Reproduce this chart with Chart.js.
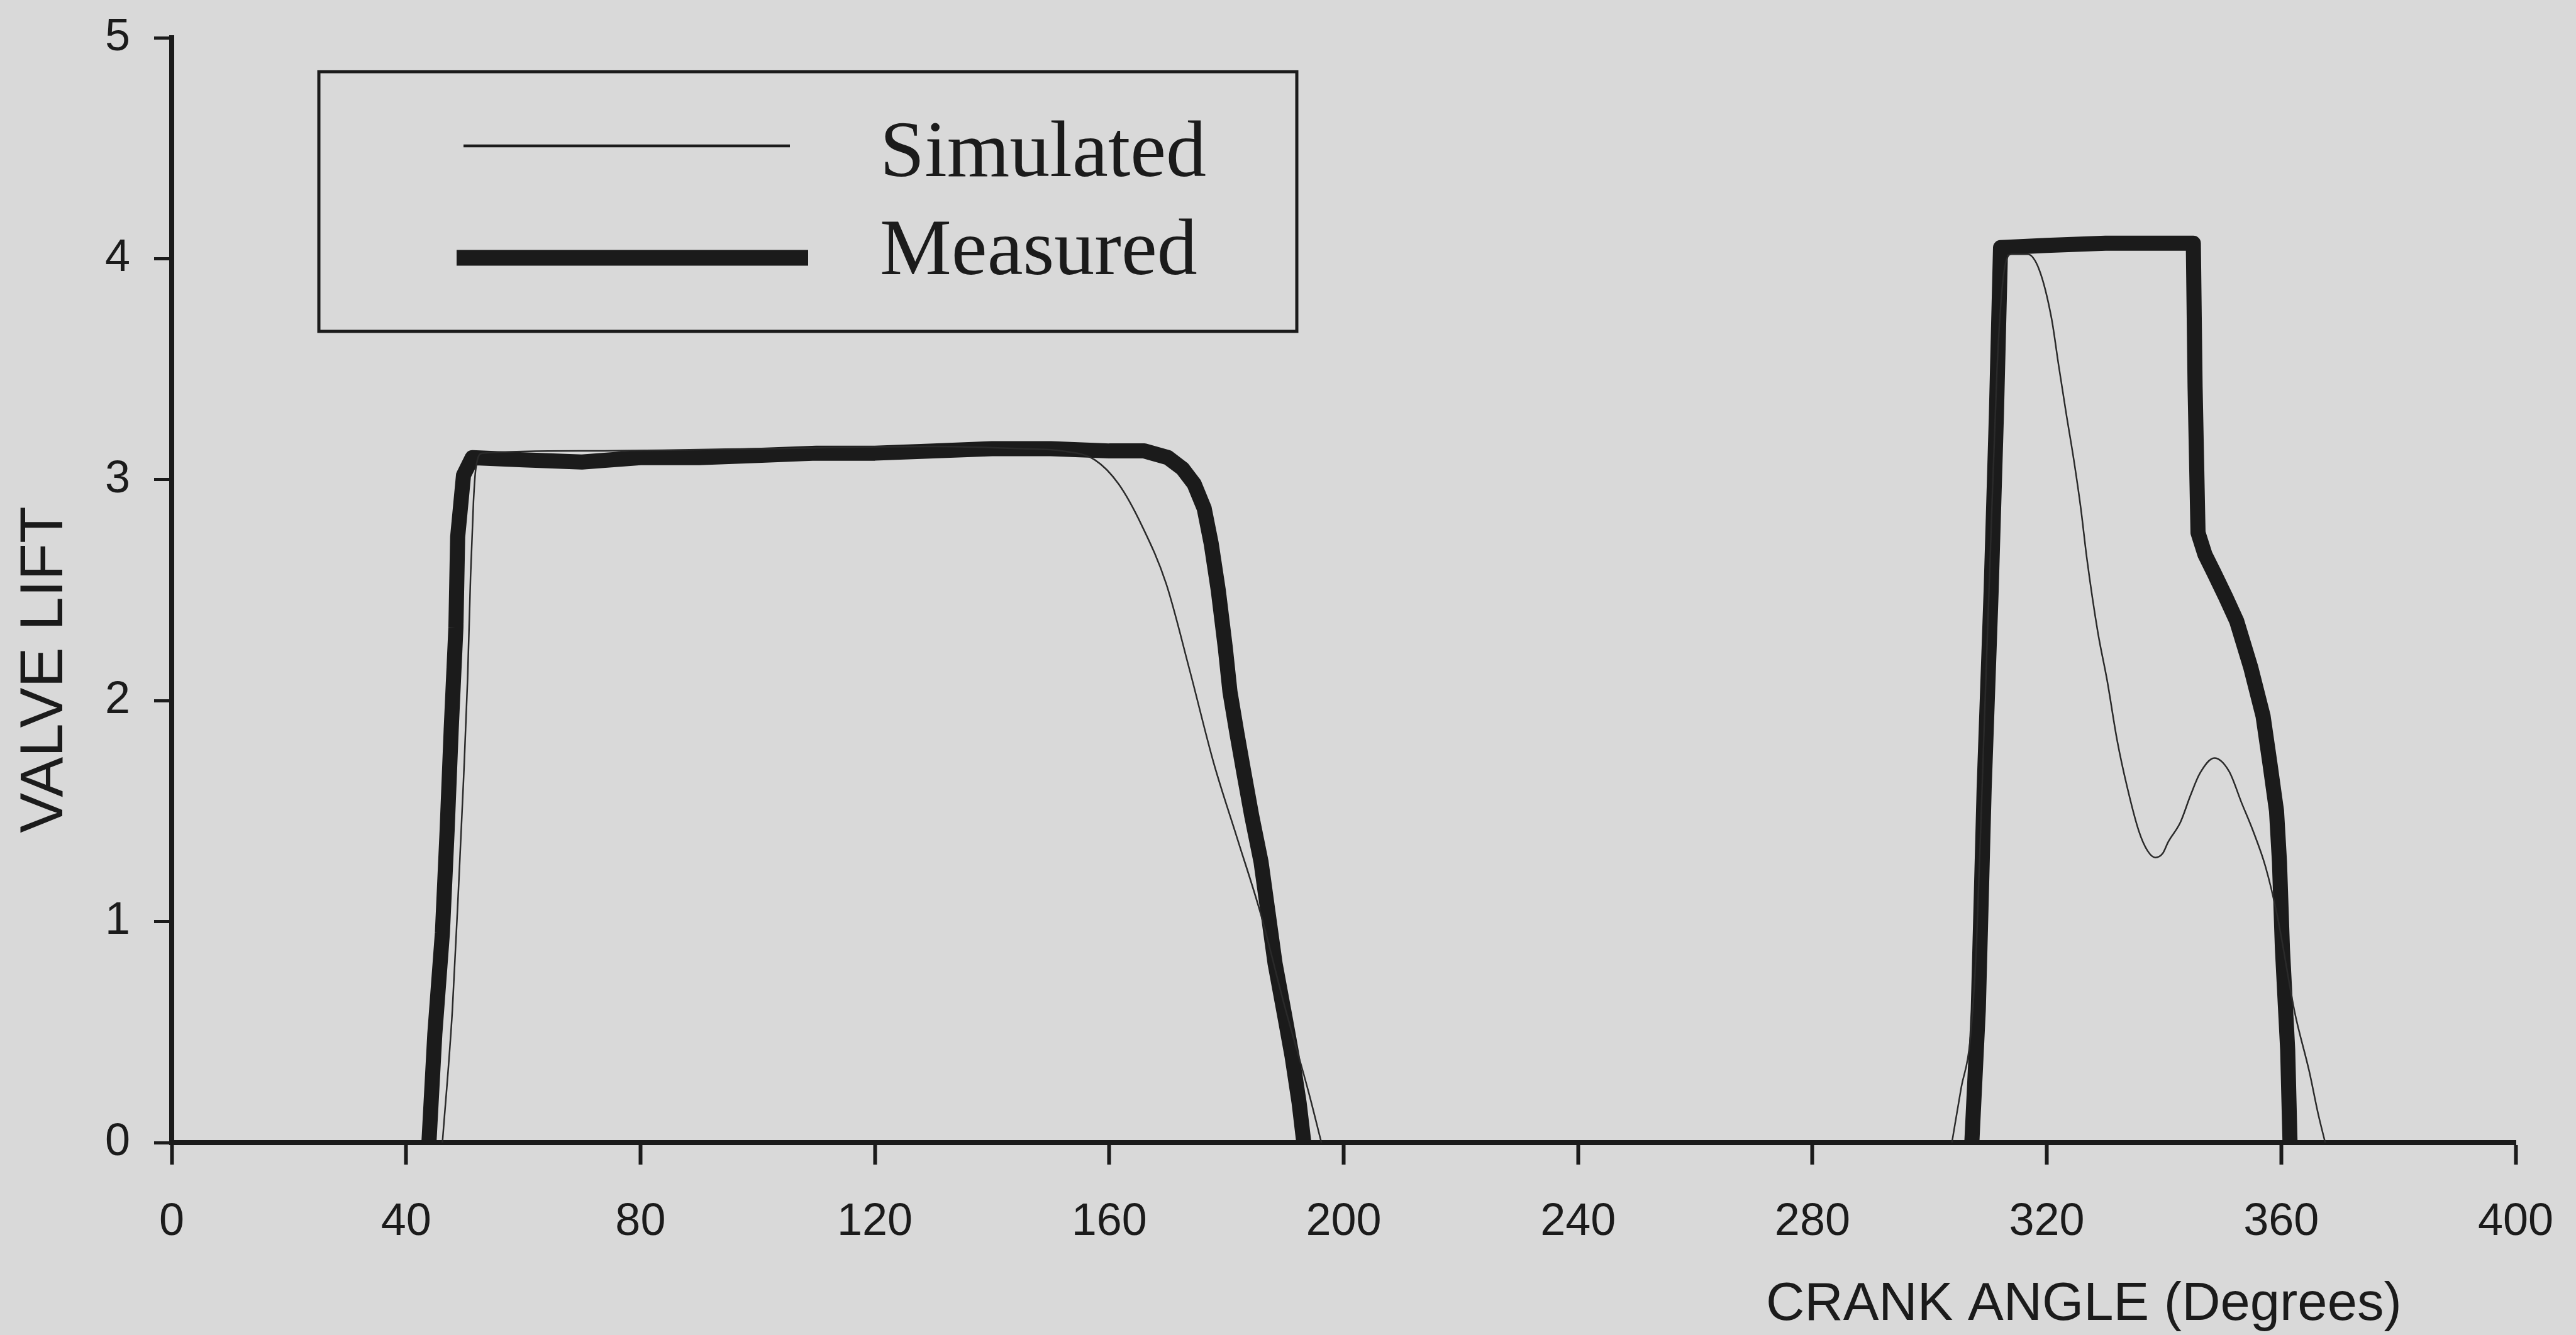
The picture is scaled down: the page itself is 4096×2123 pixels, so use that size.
<!DOCTYPE html>
<html>
<head>
<meta charset="utf-8">
<script src="https://cdn.jsdelivr.net/npm/chart.js@4.4.1/dist/chart.umd.min.js"></script>
<style>
  html, body { margin: 0; padding: 0; background: #d9d9d9; }
  #wrap { width: 4096px; height: 2123px; }
</style>
</head>
<body>
<div id="wrap"><canvas id="myChart" width="4096" height="2123"></canvas></div>
<script>
const xTicks = [0, 40, 80, 120, 160, 200, 240, 280, 320, 360, 400];
const yTicks = [0, 1, 2, 3, 4, 5];

// crank angle (deg) / valve lift, null = gap between the two lobes
const simulatedAngle = [
	46.2, 47.9, 49.0, 49.8, 50.5, 51.0, 51.5, 51.9, 53, 70, 100, 130, 145, 152,
	157.5, 161.6, 165.6, 169.7, 173.7, 177.8, 181.8, 185.9, 189.9, 194.0, 196.2,
	250,
	303.8, 305.4, 306.9, 308.0, 309.2, 310.4, 311.5, 312.5, 314, 316.7, 318.7,
	320.8, 322.0, 323.3, 324.6, 325.8, 326.8, 328.7, 330.3, 332.0, 333.7, 335.7,
	337.2, 338.5, 339.8, 340.7, 342.8, 344.5, 346.1, 348.6, 351.1, 353.2, 355.2,
	357.3, 359.3, 362.3, 364.8, 366.3, 367.5
];
const simulatedLift = [
	0, 0.60, 1.18, 1.64, 2.10, 2.56, 2.90, 3.05, 3.12, 3.13, 3.14, 3.15, 3.14, 3.13,
	3.09, 2.98, 2.79, 2.53, 2.14, 1.72, 1.38, 1.03, 0.62, 0.23, 0,
	null,
	0, 0.25, 0.46, 0.9, 1.8, 2.7, 3.5, 3.9, 4.02, 4.02, 3.95,
	3.73, 3.52, 3.30, 3.09, 2.87, 2.65, 2.31, 2.09, 1.82, 1.61, 1.41,
	1.32, 1.29, 1.31, 1.36, 1.45, 1.57, 1.67, 1.74, 1.68, 1.54, 1.41,
	1.25, 1.03, 0.59, 0.32, 0.13, 0
];

const measuredAngle = [
	43.9, 44.9, 46.2, 47.0, 47.7, 48.5, 48.8, 49.8, 51.3, 60, 70, 80, 90, 100,
	110, 120, 130, 140, 150, 160, 166, 170, 172.5, 174.5, 176.2, 177.4, 178.6,
	179.8, 180.6, 181.8, 183.0, 184.3, 185.9, 187.1, 188.3, 189.9, 191.2, 192.4, 193.2,
	250,
	307.2, 308.3, 309.3, 310.5, 311.4, 312.1, 320, 330, 338, 345.0, 345.3, 345.8,
	347, 348.5, 350.5, 352.4, 354.8, 356.9, 358.1, 359.2, 359.7, 360.2, 361.1, 361.5
];
const measuredLift = [
	0, 0.49, 0.95, 1.41, 1.87, 2.33, 2.74, 3.02, 3.10, 3.09, 3.08, 3.10, 3.10, 3.11,
	3.12, 3.12, 3.13, 3.14, 3.14, 3.13, 3.13, 3.10, 3.05, 2.98, 2.87, 2.71, 2.50,
	2.24, 2.04, 1.85, 1.67, 1.48, 1.27, 1.04, 0.81, 0.58, 0.39, 0.18, 0,
	null,
	0, 0.6, 1.6, 2.5, 3.3, 4.05, 4.06, 4.07, 4.07, 4.07, 3.42, 2.76,
	2.66, 2.58, 2.47, 2.36, 2.15, 1.93, 1.71, 1.50, 1.27, 0.88, 0.42, 0
];

const INK = '#1b1b1b';

function hasFont(name) {
	const c = document.createElement('canvas').getContext('2d');
	c.font = '100px monospace';
	const a = c.measureText('CRANK 0123').width;
	c.font = `100px "${name}", monospace`;
	return c.measureText('CRANK 0123').width !== a;
}
const narrow = hasFont('Liberation Sans Narrow');
const axisFamily = narrow ? "'Liberation Sans Narrow', 'Liberation Sans', Arial, sans-serif" : "'Liberation Sans', Arial, sans-serif";
const tickSize = narrow ? 86 : 72;

const points = (xs, ys) => xs.map((x, i) => ({ x: x, y: ys[i] }));

// legend box and axis titles drawn on top of the chart
const overlay = {
	id: 'overlay',
	afterDraw(chart) {
		const { ctx, chartArea, scales: { x, y } } = chart;
		ctx.save();
		ctx.fillStyle = INK;
		ctx.strokeStyle = INK;

		// x title
		ctx.font = `${narrow ? 101 : 85}px ${axisFamily}`;
		ctx.textAlign = 'center';
		ctx.textBaseline = 'alphabetic';
		ctx.fillText('CRANK ANGLE (Degrees)', x.getPixelForValue(326.3), chartArea.bottom + 282);

		// y title
		ctx.save();
		ctx.translate(73, y.getPixelForValue(2.14));
		ctx.rotate(-Math.PI / 2);
		ctx.font = "96px 'Liberation Sans', Arial, sans-serif";
		ctx.textBaseline = 'middle';
		ctx.fillText('VALVE LIFT', 0, 0);
		ctx.restore();

		// legend
		ctx.lineWidth = 5;
		ctx.strokeRect(507, 114, 2062 - 507, 527 - 114);
		const ds = chart.data.datasets;
		const rows = [
			{ x1: 737, x2: 1256, y: 232, w: 4.5, base: 280 },
			{ x1: 726, x2: 1285, y: 410, w: 25, base: 436 }
		];
		ctx.font = "128px 'Liberation Serif', 'Times New Roman', serif";
		ctx.textAlign = 'left';
		rows.forEach((r, i) => {
			ctx.beginPath();
			ctx.lineWidth = r.w;
			ctx.strokeStyle = INK;
			ctx.moveTo(r.x1, r.y);
			ctx.lineTo(r.x2, r.y);
			ctx.stroke();
			ctx.fillText(ds[i].label, 1399, r.base);
		});
		ctx.restore();
	}
};

const ctx = document.getElementById('myChart').getContext('2d');

let liftChart = new Chart(ctx, {
	type: 'line',
	data: {
		datasets: [{
			label: 'Simulated',
			data: points(simulatedAngle, simulatedLift),
			borderColor: '#2a2a2a',
			borderWidth: 2.5,
			pointRadius: 0,
			cubicInterpolationMode: 'monotone',
			spanGaps: false,
			order: 0
		}, {
			label: 'Measured',
			data: points(measuredAngle, measuredLift),
			borderColor: INK,
			borderWidth: 24,
			borderJoinStyle: 'round',
			pointRadius: 0,
			tension: 0,
			spanGaps: false,
			order: 1
		}]
	},
	options: {
		responsive: false,
		animation: false,
		devicePixelRatio: 1,
		layout: { padding: { top: 60, right: 96, bottom: 0, left: 0 } },
		plugins: {
			legend: { display: false },
			tooltip: { enabled: false }
		},
		scales: {
			x: {
				type: 'linear',
				min: 0,
				max: 400,
				afterBuildTicks: s => { s.ticks = xTicks.map(v => ({ value: v })); },
				afterFit: s => { s.height = 306; s.paddingLeft = 0; s.paddingRight = 0; },
				grid: { drawOnChartArea: false, tickLength: 35, tickWidth: 6, tickColor: INK },
				border: { color: INK, width: 8 },
				ticks: { color: INK, padding: 49, maxRotation: 0, autoSkip: false, font: { family: axisFamily, size: tickSize } }
			},
			y: {
				min: 0,
				max: 5,
				afterBuildTicks: s => { s.ticks = yTicks.map(v => ({ value: v })); },
				afterFit: s => { s.width = 273; s.paddingTop = 0; s.paddingBottom = 0; },
				grid: { drawOnChartArea: false, tickLength: 28, tickWidth: 5, tickColor: INK },
				border: { color: INK, width: 8 },
				ticks: { color: INK, padding: 38, font: { family: axisFamily, size: tickSize } }
			}
		}
	},
	plugins: [overlay]
});
</script>
</body>
</html>
